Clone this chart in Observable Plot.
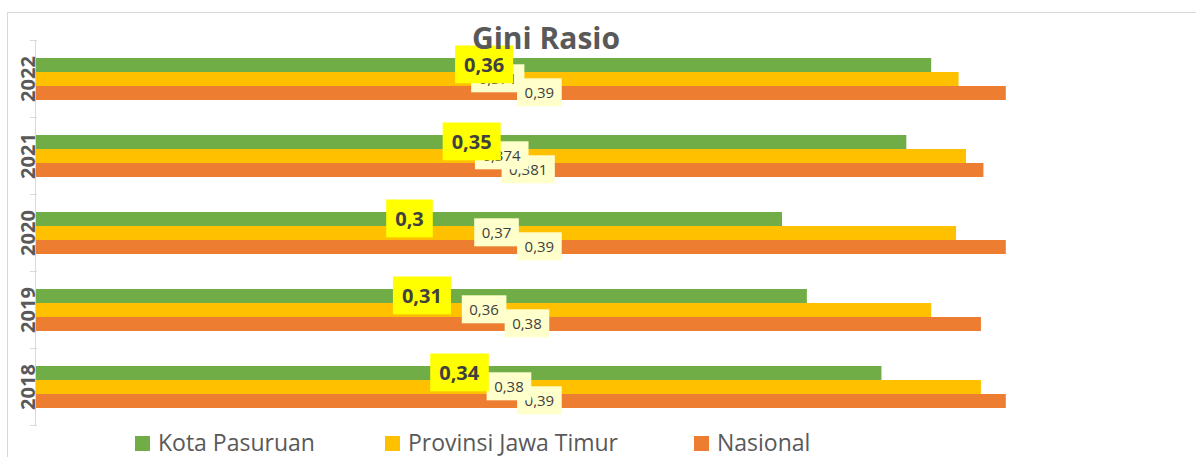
<!DOCTYPE html>
<html><head><meta charset="utf-8">
<script src="https://cdn.jsdelivr.net/npm/d3@7"></script>
<script src="https://cdn.jsdelivr.net/npm/@observablehq/plot@0.6"></script>
<style>
html,body{margin:0;padding:0;background:#fff;}
body{width:1196px;height:457px;overflow:hidden;position:relative;font-family:"Open Sans",sans-serif;}
#border{position:absolute;left:7px;top:12px;width:1300px;height:600px;border:1px solid #d9d9d9;box-sizing:border-box;}
#chart{position:absolute;left:0;top:0;}
#title{position:absolute;top:23px;left:0;width:1092px;text-align:center;font-size:30px;line-height:30px;font-weight:700;color:#595959;}
#legend{position:absolute;top:428px;left:0;width:1196px;height:27px;font-size:23px;line-height:24px;color:#595959;white-space:nowrap;}
.item{position:absolute;top:0;height:27px;display:flex;align-items:center;}
.item span.lab{display:block;line-height:24px;height:24px;}
.sw{width:15px;height:15px;margin-right:8px;margin-top:3px;}
</style></head><body>
<div id="border"></div>
<div id="chart"></div>
<div id="title">Gini Rasio</div>
<div id="legend"></div>
<script>
const years = ["2018", "2019", "2020", "2021", "2022"];
const seriesNames = ["Kota Pasuruan", "Provinsi Jawa Timur", "Nasional"];
const seriesColors = ["#70AD47", "#FFC000", "#ED7D31"];
const kota = [0.34, 0.31, 0.3, 0.35, 0.36];
const provinsi = [0.38, 0.36, 0.37, 0.374, 0.371];
const nasional = [0.39, 0.38, 0.39, 0.381, 0.39];

const valuesBySeries = [kota, provinsi, nasional];
const rows = [];
years.forEach((yr, i) => {
  seriesNames.forEach((s, j) => rows.push({year: yr, series: s, value: valuesBySeries[j][i]}));
});
const fmt = v => String(v).replace(".", ",");
const bySeries = s => rows.filter(d => d.series === s);

const plot = Plot.plot({
  width: 1196, height: 430,
  marginLeft: 36, marginRight: 41, marginTop: 38, marginBottom: 4,
  style: {background: "transparent", fontFamily: "'Open Sans', sans-serif"},
  x: {domain: [0, 0.45], axis: null},
  y: {domain: seriesNames, axis: null, paddingInner: 0, paddingOuter: 1.08},
  fy: {domain: years.slice().reverse(), padding: 0, axis: null},
  color: {domain: seriesNames, range: seriesColors},
  marks: [
    Plot.barX(rows, {fy: "year", y: "series", x: "value", fill: "series"}),
    Plot.ruleX([0], {stroke: "#d9d9d9", dx: -1}),
    Plot.frame({anchor: "top", stroke: "#d9d9d9", insetLeft: -6, insetRight: 1119}),
    Plot.frame({anchor: "bottom", stroke: "#d9d9d9", insetLeft: -6, insetRight: 1119}),
    Plot.axisFy({anchor: "left", tickSize: 0, tickPadding: 2, tickRotate: -90, fontSize: 20, fontWeight: "bold", fill: "#595959", label: null}),
    Plot.text(bySeries("Nasional"), {fy: "year", y: "series", x: d => d.value / 2, text: d => fmt(d.value), fontSize: 15, fill: "#404040", dx: 18}),
    Plot.text(bySeries("Provinsi Jawa Timur"), {fy: "year", y: "series", x: d => d.value / 2, text: d => fmt(d.value), fontSize: 15, fill: "#404040"}),
    Plot.text(bySeries("Kota Pasuruan"), {fy: "year", y: "series", x: d => d.value / 2, text: d => fmt(d.value), fontSize: 20, fontWeight: "bold", fill: "#404040"})
  ]
});
document.getElementById("chart").append(plot);

// label boxes behind each value label
const boxStyles = [
  {fill: "#FFFFCC", px: 7.5, py: 4},
  {fill: "#FFFFCC", px: 7.5, py: 4},
  {fill: "#FFFF00", px: 9, py: 5.4}
];
plot.querySelectorAll('g[aria-label="text"]').forEach((g, gi) => {
  const st = boxStyles[gi] || boxStyles[0];
  g.querySelectorAll("text").forEach(t => {
    const b = t.getBBox();
    const r = document.createElementNS("http://www.w3.org/2000/svg", "rect");
    r.setAttribute("x", b.x - st.px);
    r.setAttribute("y", b.y - st.py);
    r.setAttribute("width", b.width + 2 * st.px);
    r.setAttribute("height", b.height + 2 * st.py);
    r.setAttribute("fill", st.fill);
    r.setAttribute("stroke", "none");
    const tr = t.getAttribute("transform");
    if (tr) r.setAttribute("transform", tr);
    t.parentNode.insertBefore(r, t);
  });
});

const legend = document.getElementById("legend");
const legendLeft = [135, 385, 694];
seriesNames.forEach((s, i) => {
  const item = document.createElement("div");
  item.className = "item";
  item.style.left = legendLeft[i] + "px";
  const sw = document.createElement("span");
  sw.className = "sw";
  sw.style.background = seriesColors[i];
  const lab = document.createElement("span");
  lab.className = "lab";
  lab.textContent = s;
  item.append(sw, lab);
  legend.append(item);
});
</script>
</body></html>
